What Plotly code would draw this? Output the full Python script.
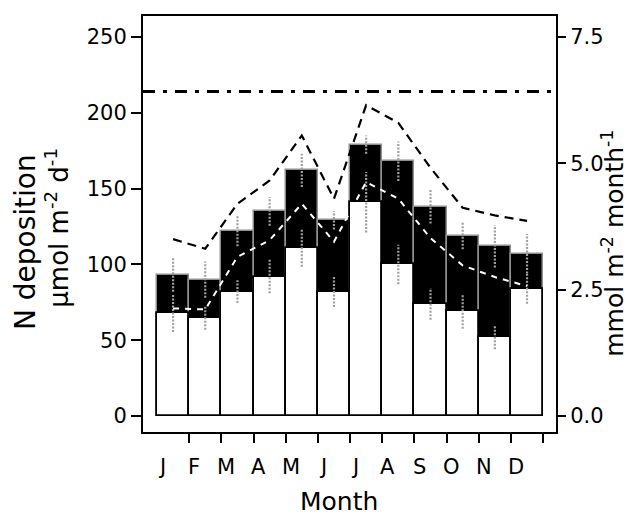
import plotly.graph_objects as go

months = ["J", "F", "M", "A", "M", "J", "J", "A", "S", "O", "N", "D"]
# stacked bar components (µmol m-2 d-1)
white_part = [68, 65, 82, 92, 111, 82, 141, 100, 74, 69, 52, 84]
black_part = [25, 25, 40, 43, 51, 47, 38, 68, 64, 50, 60, 23]
# error bar half-lengths (µmol m-2 d-1)
err_total = [11, 12, 10, 9.5, 11, 6, 6, 13, 11, 9, 14, 13]
err_white = [12.5, 8, 7.5, 11, 12.5, 10, 20, 13, 10.5, 11.5, 8, 10]
# monthly lines (mmol m-2 month-1)
line_black = [3.50, 3.31, 4.20, 4.66, 5.55, 4.30, 6.15, 5.80, 4.91, 4.12, 3.97, 3.86]
line_white = [2.13, 2.11, 3.15, 3.48, 4.20, 3.45, 4.63, 4.30, 3.52, 2.98, 2.75, 2.57]
ref_level = 214  # dash-dot reference (µmol m-2 d-1)

left_ticks = [0, 50, 100, 150, 200, 250]
right_ticks = [0.0, 2.5, 5.0, 7.5]

idx = list(range(len(months)))
total = [w + b for w, b in zip(white_part, black_part)]

FONT = "DejaVu Sans, Liberation Sans, Arial"

fig = go.Figure()
fig.add_trace(go.Bar(x=idx, y=total, width=1,
                     marker=dict(color="black", line=dict(color="#8f8f8f", width=1.5)),
                     hoverinfo="skip"))
fig.add_trace(go.Bar(x=idx, y=white_part, width=1,
                     marker=dict(color="white", line=dict(color="black", width=1.8)),
                     hoverinfo="skip"))

ex, ey = [], []
for i in idx:
    t, w = total[i], white_part[i]
    ex += [i, i, None, i, i, None]
    ey += [t - err_total[i], t + err_total[i], None, w - err_white[i], w + err_white[i], None]
fig.add_trace(go.Scatter(x=ex, y=ey, mode="lines", connectgaps=False,
                         line=dict(color="#a0a0a0", width=2.2, dash="2px,1.5px"),
                         hoverinfo="skip"))

fig.add_trace(go.Scatter(x=idx, y=line_white, yaxis="y2", mode="lines",
                         line=dict(color="white", width=2, dash="6px,6px"), hoverinfo="skip"))
fig.add_trace(go.Scatter(x=idx, y=line_black, yaxis="y2", mode="lines",
                         line=dict(color="black", width=2.2, dash="9px,6px"), hoverinfo="skip"))

fig.add_shape(type="line", xref="paper", x0=0, x1=1, yref="y", y0=ref_level, y1=ref_level,
              line=dict(color="black", width=3, dash="12px,8px,4px,8px"))

annotations = []
for i, m in enumerate(months):
    annotations.append(dict(x=i - 0.35, y=-0.05, xref="x", yref="paper", text=m,
                            showarrow=False, xanchor="center", yanchor="top",
                            font=dict(family=FONT, size=21, color="black")))
annotations += [
    dict(x=0.4746, y=-0.166, xref="paper", yref="paper", text="Month", showarrow=False,
         xanchor="center", yanchor="middle", font=dict(family=FONT, size=25, color="black")),
    dict(x=-0.283, y=0.457, xref="paper", yref="paper", text="N deposition", showarrow=False,
         textangle=-90, xanchor="center", yanchor="middle",
         font=dict(family=FONT, size=28, color="black")),
    dict(x=-0.207, y=0.49, xref="paper", yref="paper",
         text="µmol m<sup>-2</sup> d<sup>-1</sup>", showarrow=False,
         textangle=-90, xanchor="center", yanchor="middle",
         font=dict(family=FONT, size=26, color="black")),
    dict(x=1.14, y=0.4545, xref="paper", yref="paper",
         text="mmol m<sup>-2</sup> month<sup>-1</sup>", showarrow=False,
         textangle=-90, xanchor="center", yanchor="middle",
         font=dict(family=FONT, size=25, color="black")),
]

# page body has an 8px margin: the figure is 8px smaller so the plot lands where the reference has it
fig.update_layout(
    width=625, height=508,
    margin=dict(l=135, r=77, t=6, b=84),
    paper_bgcolor="white", plot_bgcolor="white",
    barmode="overlay", bargap=0, showlegend=False,
    font=dict(family=FONT, size=21, color="black"),
    annotations=annotations,
    xaxis=dict(range=[-0.935, 11.9], tickvals=[i + 0.5 for i in idx],
               ticktext=["" for _ in idx], ticks="outside", ticklen=9, tickwidth=2,
               tickcolor="black", showline=True, linewidth=2, linecolor="black",
               mirror=True, showgrid=False, zeroline=False),
    yaxis=dict(range=[-10.5, 263.8], tickvals=left_ticks, ticks="outside", ticklen=10,
               tickwidth=2, tickcolor="black", showline=True, linewidth=2,
               linecolor="black", mirror=True, showgrid=False, zeroline=False,
               tickfont=dict(size=21)),
    yaxis2=dict(range=[-0.315, 7.914], overlaying="y", side="right",
                tickvals=right_ticks, ticktext=[f"{v:.1f}" for v in right_ticks],
                ticks="outside", ticklen=8, tickwidth=2, tickcolor="black",
                showline=True, linewidth=2, linecolor="black", showgrid=False,
                zeroline=False, tickfont=dict(size=21)),
)

fig.write_html("out.html")
